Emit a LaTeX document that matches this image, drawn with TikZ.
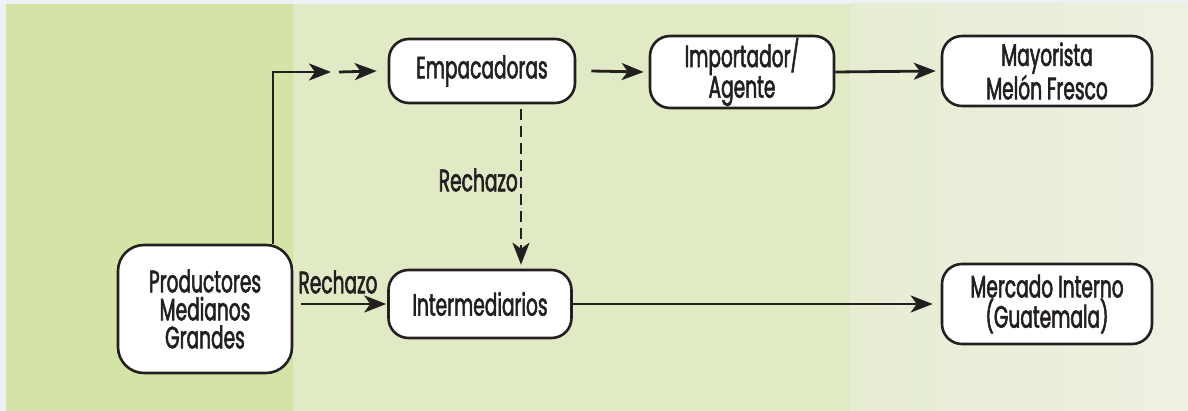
\documentclass[tikz,border=0pt]{standalone}
\usepackage{fontspec}
\setmainfont{Poppins}[FakeStretch=0.6, FakeBold=1.8]
\usetikzlibrary{arrows.meta}
\definecolor{outerbg}{HTML}{EEF2F5}
\definecolor{gA}{HTML}{D4E4A6}
\definecolor{gB}{HTML}{E0EAC5}
\definecolor{gC}{HTML}{E6EDD2}
\definecolor{gD}{HTML}{EDF1E3}
\definecolor{ink}{HTML}{231F20}
\tikzset{
  box/.style={draw=ink, line width=2.6pt, fill=white, rounded corners=20pt,
    align=center, inner sep=0pt, text=ink, font=\fontsize{31}{28}\selectfont},
  lbl/.style={inner sep=0pt, text=ink, font=\fontsize{31}{28}\selectfont},
  arr/.style={draw=ink, line width=2.8pt, -{Stealth[length=22pt,width=17pt,inset=6pt]}},
  darr/.style={draw=ink, line width=2.6pt, dash pattern=on 11pt off 6pt, -{Stealth[length=22pt,width=17pt,inset=6pt]}}
}
\begin{document}
\begin{tikzpicture}[x=1pt,y=-1pt]
\useasboundingbox (0,0) rectangle (1188,411);
\fill[outerbg] (0,0) rectangle (1188,411);
\fill[gA] (6,4) rectangle (293,411);
\fill[gB] (293,4) rectangle (850,411);
\shade[left color=gC, right color=gD] (850,4) rectangle (1188,411);

\node[box, minimum width=186pt, minimum height=64pt] (emp) at (482,71) {Empacadoras};
\node[box, minimum width=184pt, minimum height=72pt] (imp) at (742,72) {Importador/\\Agente};
\node[box, minimum width=210pt, minimum height=70pt] (may) at (1047,71) {Mayorista\\Melón Fresco};
\node[box, minimum width=174pt, minimum height=128pt, rounded corners=26pt] (prod) at (205,309) {Productores\\Medianos\\Grandes};
\node[box, minimum width=183pt, minimum height=68pt] (inter) at (480,304) {Intermediarios};
\node[box, minimum width=210pt, minimum height=80pt] (merc) at (1047,304) {Mercado Interno\\(Guatemala)};

\node[lbl, anchor=east] (r1) at (518,180) {Rechazo};
\node[lbl] (r2) at (338,282) {Rechazo};

\coordinate (bend) at (273,72);
\coordinate (t1) at (331,72);
\coordinate (s2) at (339,72);
\coordinate (dx) at (521,0);

\draw[arr] (bend |- prod.north) -- (bend) -- (t1);
\draw[arr] (s2) -- ([xshift=-11pt]emp.west);
\draw[arr] ([xshift=15pt]emp.east) -- ([xshift=-5pt]imp.west);
\draw[arr] (imp.east) -- ([xshift=-5pt]may.west);
\draw[arr] ([xshift=8pt]inter.west -| prod.east) -- ([xshift=-1pt]inter.west);
\draw[arr] (inter.east) -- ([xshift=-8pt]merc.west);
\draw[darr] ([yshift=-5pt]emp.south -| dx) -- ([yshift=4pt]inter.north -| dx);
\end{tikzpicture}
\end{document}
